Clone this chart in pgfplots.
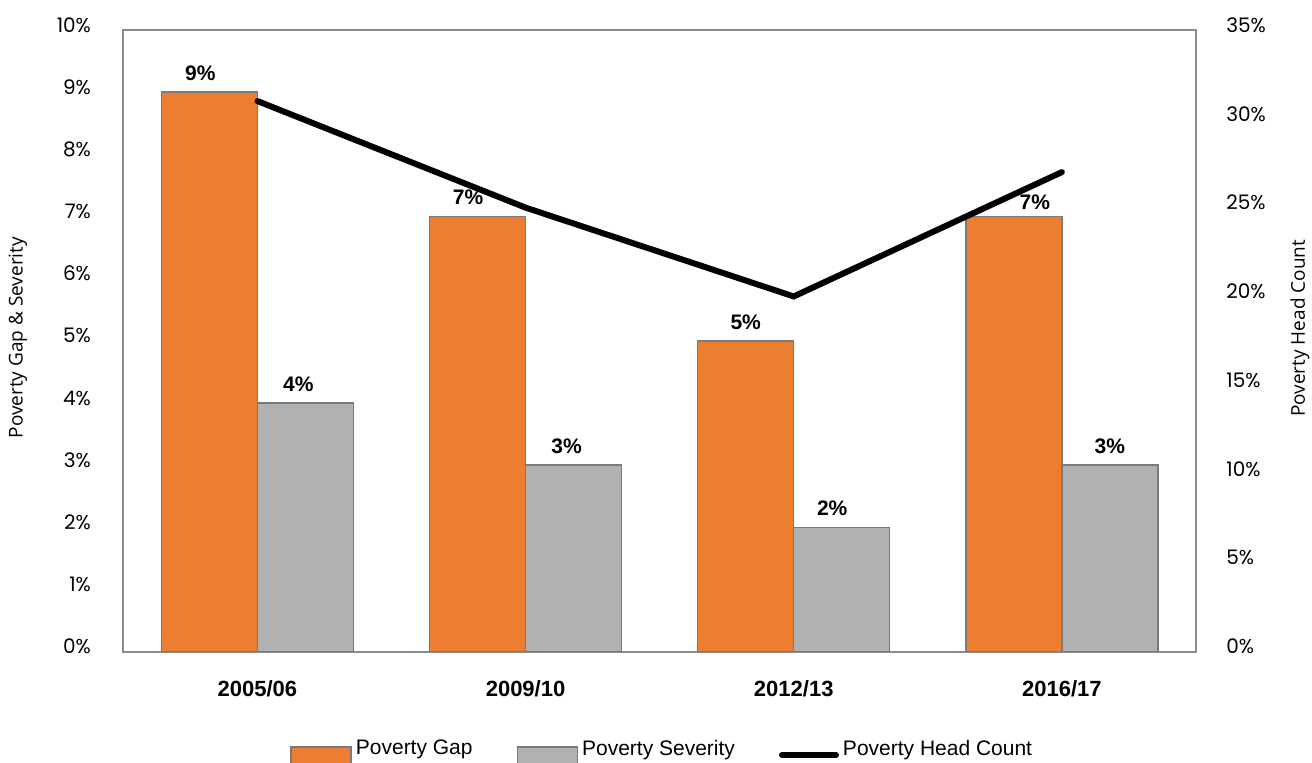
\documentclass[border=0pt]{standalone}
\usepackage{pgfplots}
\pgfplotsset{compat=1.18}
\usepackage{fontspec}
\setmainfont{Liberation Sans}
\newfontfamily\tickfont{Poppins}
\newfontfamily\labfont{Open Sans}
\definecolor{gaporange}{HTML}{ED7D31}
\definecolor{sevgray}{HTML}{B0B1B3}
\definecolor{edgegray}{HTML}{7A7A7A}
\definecolor{framegray}{HTML}{8C8C8C}
\newcommand\lbl[3]{\makebox[0pt]{\kern#1pt\kern#1pt\raisebox{#2pt}[0pt][0pt]{#3\%}}}
\begin{document}
\begin{tikzpicture}
\useasboundingbox (-61.65pt,-55.65pt) rectangle (594.35pt,325.85pt);
\begin{axis}[
  scale only axis, width=536.35pt, height=310.85pt,
  xmin=-0.5, xmax=3.5, ymin=0, ymax=10,
  ybar=0pt, bar width=48pt,
  axis line style={draw=framegray, line width=1pt},
  major tick length=0pt,
  xtick={0,1,2,3}, xticklabels={2005/06,2009/10,2012/13,2016/17},
  xtick pos=bottom, ytick pos=left,
  xticklabel style={font=\bfseries\fontsize{11}{13}\selectfont, inner sep=0pt, anchor=north, yshift=-14pt},
  ytick={0,1,...,10},
  yticklabels={0\%,1\%,2\%,3\%,4\%,5\%,6\%,7\%,8\%,9\%,10\%},
  yticklabel style={font=\tickfont\fontsize{10}{12}\selectfont, inner sep=0pt, anchor=east, xshift=-16pt, yshift=2.5pt},
  ylabel={Poverty Gap \& Severity},
  ylabel style={font=\labfont\fontsize{9.5}{11}\selectfont, at={(axis description cs:-0.0982,0.505)}, anchor=center},
  nodes near coords={\pgfplotspointmeta}, point meta=explicit symbolic,
  nodes near coords style={font=\bfseries\fontsize{10.5}{12}\selectfont, inner sep=0pt, anchor=south, yshift=5pt},
]
\addplot[fill=gaporange, draw=edgegray, line width=0.75pt] coordinates {
  (0,9) [\lbl{-4.5}{0}{9}]
  (1,7) [\lbl{-4.75}{0}{7}]
  (2,5) [\lbl{0}{0}{5}]
  (3,7) [\lbl{10.5}{-2.5}{7}]
};
\addplot[fill=sevgray, draw=edgegray, line width=0.75pt] coordinates {
  (0,4) [\lbl{-3.5}{0}{4}]
  (1,3) [\lbl{-3.5}{0}{3}]
  (2,2) [\lbl{-4.75}{0}{2}]
  (3,3) [\lbl{0}{0}{3}]
};
\end{axis}
\begin{axis}[
  scale only axis, width=536.35pt, height=310.85pt,
  xmin=-0.5, xmax=3.5, ymin=0, ymax=35,
  hide x axis, axis y line*=right,
  axis line style={draw=framegray, line width=1pt},
  major tick length=0pt,
  ytick={0,5,...,35},
  yticklabels={0\%,5\%,10\%,15\%,20\%,25\%,30\%,35\%},
  yticklabel style={font=\tickfont\fontsize{10}{12}\selectfont, inner sep=0pt, anchor=west, xshift=15pt, yshift=2.5pt},
  ylabel={Poverty Head Count},
  ylabel style={font=\labfont\fontsize{9.5}{11}\selectfont, at={(axis description cs:1.097,0.52)}, anchor=center},
  legend columns=3,
  legend style={draw=none, fill=none, at={(axis description cs:0.1554,-0.166)}, anchor=west,
    font=\fontsize{10.5}{12}\selectfont, inner sep=0pt,
    /tikz/every even column/.append style={column sep=20pt}},
]
\addlegendimage{legend image code/.code={\draw[fill=gaporange, draw=edgegray, line width=0.75pt] (0pt,-12pt) rectangle (30pt,1pt);}}
\addlegendentry{Poverty Gap}
\addlegendimage{legend image code/.code={\draw[fill=sevgray, draw=edgegray, line width=0.75pt] (0pt,-12pt) rectangle (30pt,1pt);}}
\addlegendentry{Poverty Severity}
\addplot[black, line width=3pt, line cap=round, line join=miter,
  legend image code/.code={\draw[black, line width=3pt, line cap=round] (0pt,-3pt) -- (27pt,-3pt);}]
  coordinates {(0,31) (1,25) (2,20) (3,27)};
\addlegendentry{Poverty Head Count}
\end{axis}
\end{tikzpicture}
\end{document}
